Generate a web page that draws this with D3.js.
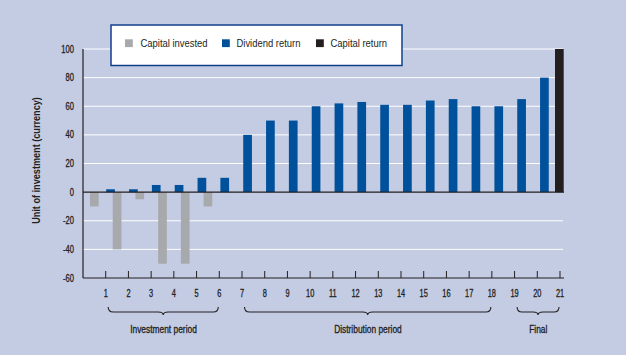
<!DOCTYPE html>
<html>
<head>
<meta charset="utf-8">
<script src="https://cdn.jsdelivr.net/npm/d3@7"></script>
<style>
  html, body { margin: 0; padding: 0; background: #c4cce4; }
  svg { display: block; }
  text { font-family: "Liberation Sans", Arial, sans-serif; fill: #231f20; }
  .medium { stroke: #231f20; stroke-width: 0.3px; }
</style>
</head>
<body>
<svg id="chart" width="626" height="355"></svg>
<script>
// ---- data ----
const periods = d3.range(1, 22);
const capitalInvested = [-10, -40, -5, -50, -50, -10];            // periods 1-6
const dividendReturn = [2, 2, 5, 5, 10, 10, 40, 50, 50, 60, 62, 63, 61, 61, 64, 65, 60, 60, 65, 80]; // periods 1-20
const capitalReturn = [{ period: 21, value: 100 }];
const yTicks = [-60, -40, -20, 0, 20, 40, 60, 80, 100];
const seriesNames = ["Capital invested", "Dividend return", "Capital return"];
const phases = [
  { label: "Investment period", from: 1, to: 6 },
  { label: "Distribution period", from: 7, to: 18 },
  { label: "Final", from: 19, to: 21 }
];
const yTitle = "Unit of investment (currency)";

// ---- styles ----
const colors = { invested: "#a7a9ac", dividend: "#00519b", capital: "#231f20" };
const dark = "#231f20";

const svg = d3.select("#chart");
svg.append("rect").attr("width", 626).attr("height", 355).attr("fill", "#c4cce4");

const x = d3.scaleLinear().domain([0, 21]).range([83, 560]);
const y = d3.scaleLinear().domain([-60, 100]).range([278, 49]);
const xLeft = 83, xRight = 564;
const bw = 8.7;

// condensed text placement helper
function place(sel, fx, fy, f, extra) {
  sel.attr("transform", (d, i) => `translate(${fx(d, i)},${fy(d, i)})${extra || ""} scale(${f},1)`);
  return sel;
}

// gridlines
svg.append("g").selectAll("line")
  .data(yTicks.filter(d => d !== 0 && d !== -60))
  .join("line")
  .attr("x1", xLeft).attr("x2", xRight - 1)
  .attr("y1", d => y(d)).attr("y2", d => y(d))
  .attr("stroke", "#ffffff").attr("stroke-width", 1);

// y tick labels
place(svg.append("g").selectAll("text")
  .data(yTicks)
  .join("text")
  .attr("class", "medium")
  .attr("text-anchor", "end")
  .attr("font-size", 10)
  .text(d => d), () => 74, d => y(d) + 3.5, 0.76);

// y title
svg.append("text")
  .attr("transform", `translate(40,${(y(100) + y(-60)) / 2 - 3}) rotate(-90) scale(0.83,1)`)
  .attr("text-anchor", "middle")
  .attr("font-size", 11)
  .attr("font-weight", "bold")
  .text(yTitle);

// bars: capital invested
svg.append("g").selectAll("rect")
  .data(capitalInvested.map((v, i) => ({ period: i + 1, value: v })))
  .join("rect")
  .attr("x", d => x(d.period - 1) + 7)
  .attr("width", bw)
  .attr("y", d => y(Math.max(0, d.value)))
  .attr("height", d => Math.abs(y(d.value) - y(0)))
  .attr("fill", colors.invested);

// bars: dividend return
svg.append("g").selectAll("rect")
  .data(dividendReturn.map((v, i) => ({ period: i + 1, value: v })))
  .join("rect")
  .attr("x", d => x(d.period) + 0.5 + (d.period - 1) * 0.12)
  .attr("width", bw)
  .attr("y", d => y(d.value))
  .attr("height", d => y(0) - y(d.value))
  .attr("fill", colors.dividend);

// bars: capital return
svg.append("g").selectAll("rect")
  .data(capitalReturn)
  .join("rect")
  .attr("x", d => x(d.period) - 5)
  .attr("width", bw)
  .attr("y", d => y(d.value))
  .attr("height", d => y(0) - y(d.value))
  .attr("fill", colors.capital);

// axes lines
svg.append("line").attr("x1", xLeft).attr("x2", xLeft).attr("y1", y(100)).attr("y2", y(-60))
  .attr("stroke", dark).attr("stroke-width", 1.2);
svg.append("line").attr("x1", xLeft).attr("x2", xRight).attr("y1", y(0)).attr("y2", y(0))
  .attr("stroke", dark).attr("stroke-width", 1.2);
svg.append("line").attr("x1", xLeft).attr("x2", xRight).attr("y1", y(-60)).attr("y2", y(-60))
  .attr("stroke", dark).attr("stroke-width", 1.2);

// x ticks
svg.append("g").selectAll("line")
  .data(periods)
  .join("line")
  .attr("x1", d => x(d)).attr("x2", d => x(d))
  .attr("y1", y(-60) - 7).attr("y2", y(-60))
  .attr("stroke", dark).attr("stroke-width", 1);

place(svg.append("g").selectAll("text")
  .data(periods)
  .join("text")
  .attr("class", "medium")
  .attr("text-anchor", "middle")
  .attr("font-size", 10)
  .text(d => d), d => x(d), () => 297, 0.74);

// braces
function brace(x0, x1, y0, y1, y2, r) {
  const xm = (x0 + x1) / 2;
  const p = d3.path();
  p.moveTo(x0, y0);
  p.quadraticCurveTo(x0, y1, x0 + r, y1);
  p.lineTo(xm - r, y1);
  p.quadraticCurveTo(xm, y1, xm, y2);
  p.quadraticCurveTo(xm, y1, xm + r, y1);
  p.lineTo(x1 - r, y1);
  p.quadraticCurveTo(x1, y1, x1, y0);
  return p.toString();
}
const pg = svg.append("g").selectAll("g").data(phases).join("g");
pg.append("path")
  .attr("d", d => brace(x(d.from) + 2.5, x(d.to) - 1, 307, 312, 315, 5))
  .attr("fill", "none").attr("stroke", dark).attr("stroke-width", 1.1);
place(pg.append("text")
  .attr("class", "medium")
  .attr("text-anchor", "middle")
  .attr("font-size", 10)
  .text(d => d.label), d => (x(d.from) + x(d.to)) / 2 + 1, () => 333, 0.84);

// legend
const lg = svg.append("g");
lg.append("rect").attr("x", 111).attr("y", 25).attr("width", 291).attr("height", 40.5)
  .attr("fill", "#ffffff").attr("stroke", "#123f8c").attr("stroke-width", 1.5);
const legendItems = [
  { name: seriesNames[0], color: colors.invested, sx: 125, tx: 140.5 },
  { name: seriesNames[1], color: colors.dividend, sx: 222, tx: 236.5 },
  { name: seriesNames[2], color: colors.capital, sx: 316, tx: 330.5 }
];
const li = lg.selectAll("g").data(legendItems).join("g");
li.append("rect").attr("x", d => d.sx).attr("y", 39.3).attr("width", 7.8).attr("height", 7.8).attr("fill", d => d.color);
place(li.append("text").attr("font-size", 10.5).text(d => d.name), d => d.tx, () => 47.3, 0.9);
</script>
</body>
</html>
